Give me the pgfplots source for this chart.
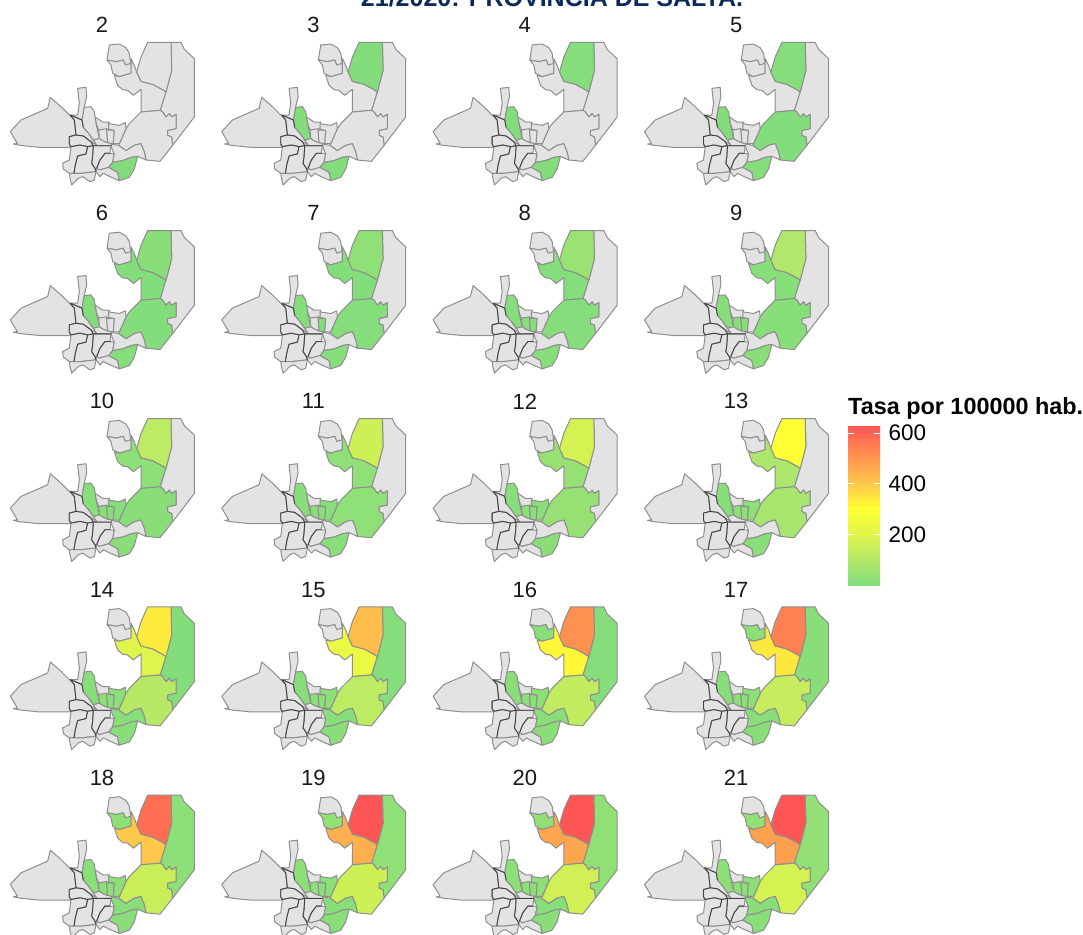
\documentclass[border=0pt]{standalone}
\usepackage{pgfplots}
\usepackage{pgfplotstable}
\usepackage{fontspec}
\setmainfont{Liberation Sans}
\pgfplotsset{compat=1.18}

\definecolor{nadata}{HTML}{E3E3E3}
\definecolor{border}{HTML}{8E8E8E}
\definecolor{titleblue}{HTML}{0B2A5B}
\pgfplotsset{colormap={rate}{
  rgb255(0)=(128,220,125) rgb255(100)=(180,232,105) rgb255(200)=(224,245,75)
  rgb255(305)=(255,255,51) rgb255(400)=(255,200,75) rgb255(500)=(255,150,80) rgb255(630)=(255,85,85)}}

% rate per 100000 by week and department, -1 = no cases
\pgfplotstableread{
week A B C D E F G H I Ja Jb Jc Jd
2  -1 -1 -1 -1 -1 -1 4 -1 -1 -1 -1 -1 -1
3  -1 -1 -1 8 -1 -1 6 -1 6 -1 -1 -1 -1
4  -1 -1 -1 10 -1 -1 8 -1 8 -1 -1 -1 -1
5  -1 -1 -1 12 -1 6 10 -1 8 -1 -1 -1 -1
6  -1 -1 6 20 -1 8 10 -1 8 -1 -1 -1 -1
7  -1 -1 8 30 -1 10 12 -1 10 -1 -1 8 -1
8  -1 -1 10 50 -1 10 15 -1 10 -1 15 15 -1
9  -1 -1 15 95 -1 15 18 -1 12 -1 18 18 -1
10 -1 -1 25 120 -1 20 18 -1 15 -1 20 20 10
11 -1 -1 30 160 -1 30 18 -1 15 -1 20 20 15
12 -1 -1 45 175 -1 45 20 -1 15 -1 22 22 20
13 -1 -1 85 300 -1 75 20 -1 15 -1 25 25 25
14 -1 -1 200 340 8 110 20 15 15 -1 25 25 25
15 -1 -1 240 420 10 120 20 18 15 -1 25 25 25
16 -1 20 320 510 12 130 20 20 18 -1 25 25 25
17 -1 25 345 545 20 140 20 20 20 -1 25 25 25
18 -1 30 400 580 25 150 20 20 22 -1 25 25 25
19 -1 35 450 630 30 160 20 20 25 -1 25 25 25
20 -1 35 470 630 33 165 20 20 25 -1 25 25 25
21 -1 35 480 630 35 175 20 20 25 -1 25 25 25
}\rates

% outlines, in units of 1/3 px from the top left corner of a panel
\def\polyA{(321,180)(328,135)(358,132)(378,143)(388,160)(393,195)(376,195)(370,180)(348,185)}
\def\polyB{(321,180)(348,185)(370,180)(376,195)(393,190)(393,220)(358,230)(338,220)(333,195)}
\def\polyC{(343,226)(358,230)(393,220)(393,176)(403,196)(410,216)(423,244)(458,253)(488,269)(498,276)(481,331)(423,336)(423,268)(400,286)(383,271)(368,269)(353,256)}
\def\polyD{(443,127)(513,127)(515,211)(498,276)(488,269)(458,253)(423,244)(410,216)(423,171)}
\def\polyE{(513,127)(543,127)(553,148)(583,176)(583,351)(518,436)(515,411)(503,406)(503,391)(528,386)(528,343)(515,351)(508,341)(498,351)(488,336)(481,331)(498,276)(515,211)}
\def\polyF{(423,336)(481,331)(488,336)(498,351)(508,341)(515,351)(528,343)(528,386)(503,391)(503,406)(515,411)(518,436)(480,484)(438,480)(433,456)(423,431)(403,436)(378,452)(356,436)(378,386)(388,371)}
\def\polyG{(338,487)(368,482)(393,472)(413,469)(403,507)(388,532)(358,542)(353,517)(326,502)}
\def\polyH{(333,432)(356,436)(378,452)(403,436)(423,431)(433,456)(438,480)(413,469)(393,472)(368,482)(338,487)(343,462)(336,447)}
\def\polyI{(253,322)(273,320)(283,335)(288,370)(298,415)(280,420)(266,400)(250,382)(246,360)}
\def\polyJa{(284,350)(308,366)(328,366)(326,388)(296,390)(290,375)}
\def\polyJb{(296,390)(320,386)(323,428)(308,422)(298,415)}
\def\polyJc{(320,390)(343,391)(340,431)(323,428)}
\def\polyJd{(326,371)(358,376)(376,368)(378,386)(358,431)(340,431)(343,391)(326,388)}
\def\polyK{(31,395)(63,360)(143,325)(151,292)(183,320)(208,345)(223,360)(228,405)(208,410)(208,432)(213,442)(118,442)(60,436)(40,432)(52,430)}
\def\polyL{(233,265)(258,262)(260,290)(253,320)(246,360)(211,345)(233,345)(238,310)}
\def\polyM{(211,345)(246,360)(250,382)(266,400)(280,420)(290,435)(273,425)(250,408)(228,405)(223,360)}
\def\polyN{(208,410)(228,405)(250,408)(273,425)(280,437)(263,440)(240,435)(213,440)(208,432)}
\def\polyO{(213,440)(240,435)(263,440)(258,462)(233,468)(226,495)(222,520)(208,520)(190,507)(188,490)(208,480)}
\def\polyP{(263,440)(280,437)(278,470)(275,490)(285,505)(288,515)(243,520)(222,520)(226,495)(233,468)(258,462)}
\def\polyQ{(208,520)(222,520)(243,520)(288,515)(283,540)(270,545)(248,530)(235,535)(215,555)(210,535)}
\def\polyR{(280,437)(333,437)(330,460)(315,460)(300,480)(290,505)(285,505)(275,490)(278,470)}
\def\polyS{(315,460)(330,460)(343,462)(338,487)(326,502)(298,510)(290,505)(300,480)}
\def\polyT{(298,510)(326,502)(353,517)(358,542)(330,530)(310,520)(300,530)(288,515)(290,505)}
\def\polyV{(266,400)(280,420)(298,415)(308,422)(323,428)(340,431)(333,437)(280,437)(290,435)}

\pgfplotsset{
  regiongrey/.style={draw=border,fill=nadata,line width=1pt,line join=round},
  regionrate/.style={line width=1pt,line join=round,
    color of colormap={#1 of rate},fill=.,draw=border},
  panel/.style={anchor=north west,scale only axis,width=210pt,height=190pt,
    xmin=0,xmax=630,ymin=0,ymax=570,y dir=reverse,hide axis,clip=false,no markers},
  inner line/.style={black!75,line width=0.8pt,line join=round},
}

% value in the table, scaled to the 0..1000 range of the colormap
\newcommand{\region}[2]{%
  \pgfplotstablegetelem{\rownum}{#1}\of\rates
  \pgfmathtruncatemacro{\val}{\pgfplotsretval<0 ? -1 : \pgfplotsretval/630*1000}%
  \ifnum\val<0
    \edef\tmp{\noexpand\addplot[regiongrey] coordinates {#2} --cycle;}%
  \else
    \edef\tmp{\noexpand\addplot[regionrate=\val] coordinates {#2} --cycle;}%
  \fi
  \tmp
}
\newcommand{\greyregion}[1]{\addplot[regiongrey] coordinates {#1} --cycle;}

\newcommand{\mappanel}[3]{% row of table, column, line
  \def\rownum{#1}%
  \pgfplotstablegetelem{#1}{week}\of\rates
  \edef\weeklabel{\pgfplotsretval}%
  \begin{axis}[panel,at={(#2*211.4pt,-#3*188.2pt)}]
    \greyregion{\polyK}
    \greyregion{\polyL}
    \greyregion{\polyM}
    \greyregion{\polyN}
    \greyregion{\polyO}
    \greyregion{\polyP}
    \greyregion{\polyQ}
    \greyregion{\polyR}
    \greyregion{\polyS}
    \greyregion{\polyT}
    \greyregion{\polyV}
    \region{A}{\polyA}
    \region{B}{\polyB}
    \region{C}{\polyC}
    \region{E}{\polyE}
    \region{D}{\polyD}
    \region{F}{\polyF}
    \region{H}{\polyH}
    \region{G}{\polyG}
    \region{Ja}{\polyJa}
    \region{Jb}{\polyJb}
    \region{Jc}{\polyJc}
    \region{Jd}{\polyJd}
    \region{I}{\polyI}
    % darker internal borders of the western departments
    \addplot[inner line] coordinates {(211,345)(246,360)(250,382)};
    \addplot[inner line] coordinates {(211,345)(223,360)(228,405)(208,410)(208,432)(213,440)(240,435)(263,440)(280,437)(333,437)};
    \addplot[inner line] coordinates {(228,405)(250,408)(273,425)(280,437)};
    \addplot[inner line] coordinates {(263,440)(258,462)(233,468)(226,495)(222,520)};
    \addplot[inner line] coordinates {(280,437)(278,470)(275,490)(285,505)(288,515)};
    \addplot[inner line] coordinates {(290,505)(300,480)(315,460)(330,460)};
    \node[font=\fontsize{22}{22}\selectfont,text=black!90] at (axis cs:306,75) {\weeklabel};
  \end{axis}
}

\begin{document}
\begin{tikzpicture}[x=1pt,y=1pt]
\useasboundingbox (0,0) rectangle (1083,-934);
\clip (0,0) rectangle (1083,-934);
\node[anchor=base,text=titleblue,font=\bfseries\fontsize{25}{25}\selectfont] at (552,-6.5) {21/2020: PROVINCIA DE SALTA.};
\pgfplotsinvokeforeach{0,1,2,3,4}{%
  \foreach \c in {0,1,2,3}{%
    \pgfmathtruncatemacro{\r}{#1*4+\c}%
    \mappanel{\r}{\c}{#1}%
  }%
}
\node[anchor=base west,inner sep=0pt,font=\bfseries\fontsize{23.4}{24}\selectfont] at (848,-414) {Tasa por 100000 hab.};
\begin{axis}[anchor=north west,at={(848pt,-425.5pt)},scale only axis,width=1pt,height=1pt,hide axis,
  colormap name=rate,point meta min=0,point meta max=630,
  colorbar,colorbar/width=32pt,
  colorbar style={at={(0,1)},anchor=north west,xshift=0pt,height=159.5pt,
    ytick={200,400,600},ylabel={},axis line style={draw=none},axis on top,
    major tick length=6pt,ytick style={draw=white,line width=0.7pt},ytick pos=both,
    yticklabel pos=right,
    yticklabel style={font=\fontsize{22.5}{22}\selectfont,xshift=5pt},
    /pgf/number format/assume math mode=true,
  }]
  \addplot[draw=none] coordinates {(0,0)};
\end{axis}
\end{tikzpicture}
\end{document}
